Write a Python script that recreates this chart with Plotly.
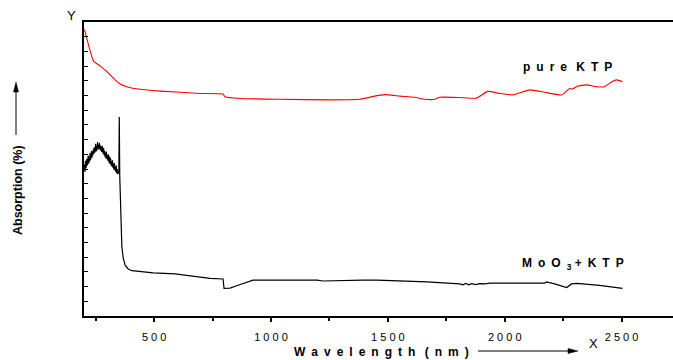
import plotly.graph_objects as go

# ---- data ----
pure_nm = [202, 241, 269, 298, 333, 355, 383, 440, 526, 697, 795, 803, 868, 1038, 1252,
           1380, 1444, 1487, 1551, 1615, 1658, 1701, 1722, 1808, 1880, 1927, 1979, 2034,
           2107, 2171, 2244, 2278, 2290, 2312, 2350, 2393, 2427, 2457, 2479, 2504]
pure_abs = [97.5, 86.7, 85.1, 83.1, 80.3, 78.9, 78.0, 77.1, 76.5, 75.7, 75.5, 74.6, 74.0, 73.7,
            73.5, 73.7, 74.8, 75.3, 74.8, 74.4, 73.7, 73.7, 74.4, 74.3, 74.1, 76.4, 75.7,
            75.2, 76.9, 76.1, 75.2, 77.4, 77.2, 78.2, 78.6, 78.0, 78.0, 79.6, 80.3, 79.7]

moo3_nm = [202, 204, 206, 208, 210, 212, 214, 216, 218, 220, 222, 224, 226, 228, 230, 232,
           234, 236, 238, 240, 242, 244, 246, 248, 250, 252, 254, 256, 258, 260, 262, 264,
           266, 268, 270, 272, 274, 276, 278, 280, 282, 284, 286, 288, 290, 292, 294, 296,
           298, 300, 302, 304, 306, 308, 310, 312, 314, 316, 318, 320, 322, 324, 326, 328,
           330, 332, 334, 336, 338, 340, 342, 344, 346, 349, 351, 353, 355, 362, 368, 376,
           389, 405, 496, 590, 739, 795, 799, 825, 850, 880, 923, 1197, 1222, 1393, 1453,
           1667, 1786, 1808, 1821, 1833, 1846, 1859, 1876, 1893, 1915, 1936, 2171, 2179, 2214,
           2265, 2286, 2308, 2406, 2504]
moo3_abs = [51.5, 49.0, 52.8, 50.2, 51.0, 53.5, 51.2, 52.4, 54.6, 51.8, 53.9, 52.6, 55.4, 53.0,
            54.2, 56.1, 53.8, 55.9, 54.6, 56.8, 55.2, 57.4, 55.6, 56.7, 58.6, 56.0, 57.8, 56.4,
            59.2, 57.2, 58.2, 56.6, 58.9, 57.0, 58.0, 56.2, 57.6, 55.8, 57.9, 56.0, 55.2, 57.1,
            54.8, 56.2, 54.1, 55.6, 53.6, 55.9, 53.4, 54.6, 52.8, 55.0, 53.2, 52.0, 54.2, 51.8,
            53.6, 51.2, 52.6, 50.8, 53.0, 50.4, 51.6, 49.8, 52.0, 49.6, 50.8, 49.0, 51.2, 48.6,
            50.0, 48.2, 49.5, 48.5, 67.7, 47.5, 39.5, 23.6, 19.7, 17.3, 16.0, 15.4, 14.7, 14.3,
            12.8, 12.6, 9.4, 9.5, 10.2, 11.1, 12.2, 12.2, 11.9, 12.2, 12.2, 11.6, 11.2, 10.9,
            10.6, 11.1, 10.6, 11.0, 10.7, 11.0, 10.9, 11.2, 11.2, 11.6, 10.9, 9.7, 10.9, 11.1,
            10.4, 9.4]

x_tickvals = [500, 1000, 1500, 2000, 2500]
x_ticktext = ["5 0 0", "1 0 0 0", "1 5 0 0", "2 0 0 0", "2 5 0 0"]
x_minorvals = [250, 750, 1250, 1750, 2250]

FONT = "Liberation Sans, Arial, sans-serif"
E = "\u2002"  # en space for letter spacing

fig = go.Figure()
fig.add_trace(go.Scatter(x=pure_nm, y=pure_abs, mode="lines",
                         line=dict(color="#ff0000", width=1.1, shape="spline", smoothing=0.4),
                         showlegend=False))
fig.add_trace(go.Scatter(x=moo3_nm, y=moo3_abs, mode="lines",
                         line=dict(color="#000000", width=1.2), showlegend=False))

fig.update_layout(
    width=673, height=360,
    margin=dict(l=84, r=0, t=22, b=44, autoexpand=False),
    paper_bgcolor="white", plot_bgcolor="white",
    font=dict(family=FONT, color="black"),
    xaxis=dict(range=[200, 2720], tickmode="array", tickvals=x_tickvals, ticktext=x_ticktext,
               ticks="outside", ticklen=4, tickwidth=1.5, tickcolor="black",
               ticklabelstandoff=6,
               minor=dict(tickmode="array", tickvals=x_minorvals, ticks="outside",
                          ticklen=3, tickwidth=1.5, tickcolor="black"),
               tickfont=dict(size=11, family=FONT), automargin=False,
               showline=True, linewidth=2, linecolor="black", mirror=True,
               showgrid=False, zeroline=False),
    yaxis=dict(range=[0, 100], tickmode="linear", tick0=0, dtick=5,
               ticks="inside", ticklen=4, tickwidth=1.2, tickcolor="black",
               showticklabels=False, automargin=False,
               showline=True, linewidth=2, linecolor="black", mirror=True,
               showgrid=False, zeroline=False),
)

def paper_x(px):
    return (px - 84) / 589.0

def paper_y(py):
    return (316 - py) / 294.0

def label(text, px, py, size, angle=0):
    return dict(text=text, x=paper_x(px), y=paper_y(py), xref="paper", yref="paper",
                xanchor="center", yanchor="middle", showarrow=False, textangle=angle,
                font=dict(size=size, family=FONT, color="black"))

ann = []
ann.append(label("Y", 71, 16, 13))
ann.append(label("X", 593, 343, 13))
wl = E.join("Wavelength") + E + " " + E.join("(nm)")
ann.append(label("<b>" + wl + "</b>", 381, 352, 12))
ann.append(label("<b>Absorption (%)</b>", 18, 190, 12.5, -90))
pk = E.join("pure") + E + " " + E.join("KTP")
ann.append(label("<b>" + pk + "</b>", 567, 67, 12))
mk = "M" + E + "o" + E + "O" + E + "<sub>3</sub>" + " +" + E + "K" + E + "T" + E + "P"
ann.append(label("<b>" + mk + "</b>", 573, 264, 12))
fig.update_layout(annotations=ann)

# arrows drawn as shapes (line + filled head)
shapes = []
shapes.append(dict(type="line", xref="paper", yref="paper",
                   x0=paper_x(478), x1=paper_x(570), y0=paper_y(351), y1=paper_y(351),
                   line=dict(color="black", width=1)))
shapes.append(dict(type="path", xref="paper", yref="paper",
                   path="M {} {} L {} {} L {} {} Z".format(
                       paper_x(578), paper_y(351), paper_x(568), paper_y(348.5),
                       paper_x(568), paper_y(353.5)),
                   fillcolor="black", line=dict(color="black", width=0.5)))
shapes.append(dict(type="line", xref="paper", yref="paper",
                   x0=paper_x(16), x1=paper_x(16), y0=paper_y(135), y1=paper_y(90),
                   line=dict(color="black", width=1)))
shapes.append(dict(type="path", xref="paper", yref="paper",
                   path="M {} {} L {} {} L {} {} Z".format(
                       paper_x(16), paper_y(82), paper_x(13.5), paper_y(92),
                       paper_x(18.5), paper_y(92)),
                   fillcolor="black", line=dict(color="black", width=0.5)))
fig.update_layout(shapes=shapes)

fig.write_html("out.html", config={"displayModeBar": False},
               post_script="document.body.style.margin='0';")
